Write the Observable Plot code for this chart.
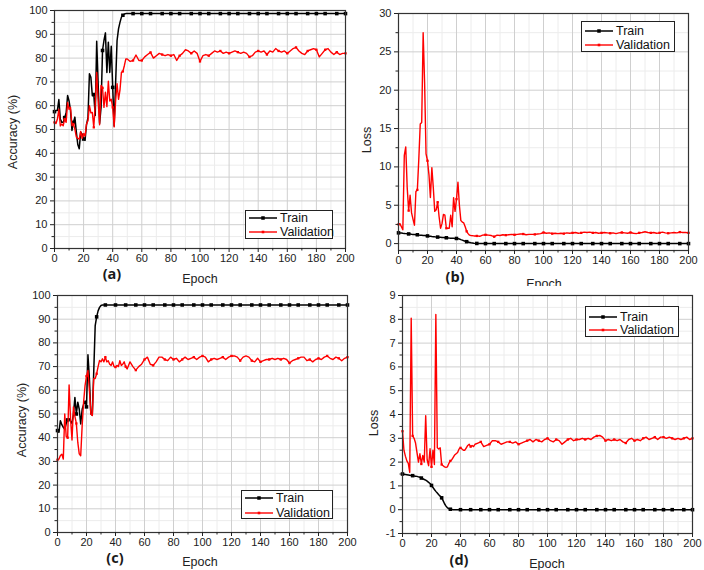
<!DOCTYPE html>
<html><head><meta charset="utf-8">
<script src="https://cdn.jsdelivr.net/npm/d3@7"></script>
<script src="https://cdn.jsdelivr.net/npm/@observablehq/plot@0.6"></script>
<style>
body{margin:0;background:#fff;}
#wrap{position:relative;width:704px;height:570px;overflow:hidden;font-family:"Liberation Sans",Arial,sans-serif;background:#fff;}
.panel{position:absolute;}
.lbl{position:absolute;white-space:nowrap;color:#222;font-size:12.5px;transform:translate(-50%,-50%);line-height:1;}
.ylbl{transform:translate(-50%,-50%) rotate(-90deg);}
.tag{font-family:"Open Sans",sans-serif;font-weight:bold;font-size:14.5px;color:#1a1a1a;}
.legend{position:absolute;border:1px solid #222;background:#fff;box-sizing:border-box;}
.row{position:absolute;left:3px;height:12px;display:flex;align-items:center;font-size:12.5px;line-height:12px;color:#111;white-space:nowrap;}
.row svg{margin-right:3px;}
</style></head>
<body><div id="wrap"></div>
<script>
// ---------- data ----------
const epochsEarly = d3.range(0, 51);          // epochs 0..50
const epochsLate = d3.range(52, 201, 2);      // epochs 52..200 (every 2)
const markerEpochs = [0,7,13,20,27,33,40,47,54,60,66,74,80,86,94,100,106,114,120,126,134,140,146,154,160,166,174,180,186,194,200];
const xMajor = [0,20,40,60,80,100,120,140,160,180,200];
const xMinor = [10,30,50,70,90,110,130,150,170,190];
const accMajor = [0,10,20,30,40,50,60,70,80,90,100];
const accMinor = [5,15,25,35,45,55,65,75,85,95];
const lossBMajor = [0,5,10,15,20,25,30];
const lossBMinor = [2.5,7.5,12.5,17.5,22.5,27.5];
const lossDMajor = [-1,0,1,2,3,4,5,6,7,8,9];
const lossDMinor = [-0.5,0.5,1.5,2.5,3.5,4.5,5.5,6.5,7.5,8.5];

// (a) accuracy
const trainA_early = [57.5,58,58,62.6,54.4,53,53,55,57,64.3,62,58,49.6,53,55.2,
  49,43.7,41.9,48.9,48,46,45.5,52,55,73.4,71.9,64.2,64.7,55.9,87.1,
  69,52.6,59.3,83.2,87.4,90.6,74,86.7,74,85,67.7,51.5,69.5,87.4,92.3,
  95,97.2,98,98.5,98.7,98.7];
const trainA_late = [98.7,98.7,98.7,98.7,98.7,98.7,98.7,98.7,98.7,98.7,98.7,98.7,98.7,98.7,98.7,
  98.7,98.7,98.7,98.7,98.7,98.7,98.7,98.7,98.7,98.7,98.7,98.7,98.7,98.7,98.7,
  98.7,98.7,98.7,98.7,98.7,98.7,98.7,98.7,98.7,98.7,98.7,98.7,98.7,98.7,98.7,
  98.7,98.7,98.7,98.7,98.7,98.7,98.7,98.7,98.7,98.7,98.7,98.7,98.7,98.7,98.7,
  98.7,98.7,98.7,98.7,98.7,98.7,98.7,98.7,98.7,98.7,98.7,98.7,98.7,98.7,98.7];
const valA_early = [53,52.5,54.4,58.5,51.5,52.3,51.6,54.4,53,61.4,58.5,59.3,51.6,52.3,50.2,
  46.9,46.3,46,49.2,46.3,48,47.3,52.3,53.7,60,57,57.2,50.9,60.7,74,
  62,52,68.5,67.5,59.3,65.7,59.6,70.3,62,62.7,59.3,51.1,62,69.2,62.7,
  66.5,74,74.4,76.8,79.6,79.6];
const valA_late = [78.6,79,81.3,79,79,80.5,81.5,82.4,80,81,82,81.5,81,81.5,81,
  81.5,79,81,82,83.5,83,82,83,82,78.6,81,81.5,81,82,83,
  82.5,83,82,82.5,82,82.5,83,82.5,82,82.5,82,80.5,81,82.5,83,
  82.5,83,81.5,83,82.5,84,83,82.5,83,82,83,84,84.5,83,82,
  81.5,83,83.5,84,83.5,80.5,82,83.5,84,82.5,81.5,82.5,81.5,82,82];

// (b) loss
const trainB_early = [1.4,1.38,1.37,1.34,1.33,1.3,1.29,1.26,1.25,1.22,1.2,1.19,1.16,1.15,1.12,
  1.1,1.09,1.06,1.05,1.02,1.0,0.97,0.95,0.92,0.9,0.88,0.87,0.85,0.84,0.82,
  0.8,0.79,0.77,0.76,0.74,0.72,0.71,0.7,0.69,0.68,0.67,0.65,0.6,0.52,0.45,
  0.38,0.3,0.25,0.2,0.15,0.1];
const trainB_late = [0.05,0.02,0,0,0,0,0,0,0,0,0,0,0,0,0,
  0,0,0,0,0,0,0,0,0,0,0,0,0,0,0,
  0,0,0,0,0,0,0,0,0,0,0,0,0,0,0,
  0,0,0,0,0,0,0,0,0,0,0,0,0,0,0,
  0,0,0,0,0,0,0,0,0,0,0,0,0,0,0];
const valB_early = [2.5,2.6,2.2,1.8,11.5,12.6,7.3,4.3,6.3,4.0,3.2,2.4,6.8,7.0,11,
  15.6,15.8,27.5,21,11.7,10.8,9.0,6.0,9.9,7.3,4.2,4.4,5.4,3.5,2.0,
  2.6,3.8,3.7,2.0,2.0,2.0,3.7,2.2,6.0,4.2,5.8,8.0,5.0,3.0,2.8,
  2.7,2.2,1.6,1.3,1.1,1.05];
const valB_late = [1.0,1.0,0.95,1.1,1.15,1.1,1.05,0.9,1.1,1.05,1.15,1.1,1.15,1.2,1.15,
  1.2,1.25,1.25,1.15,1.2,1.2,1.2,1.25,1.3,1.45,1.35,1.4,1.3,1.35,1.3,
  1.35,1.3,1.4,1.35,1.4,1.45,1.35,1.4,1.5,1.45,1.5,1.4,1.45,1.35,1.4,
  1.45,1.4,1.35,1.4,1.3,1.4,1.45,1.4,1.35,1.45,1.35,1.3,1.4,1.45,1.55,
  1.45,1.4,1.45,1.35,1.4,1.5,1.4,1.35,1.4,1.45,1.4,1.5,1.45,1.45,1.4];

// (c) accuracy
const trainC_early = [43,42.3,47.2,45.5,44.4,43.5,46,47.5,48,47,46,50,57,50,55,
  52,45.8,52,54,55.5,53,75,65,50,49.5,68,87.3,91,93.5,95,
  95.8,96,96,96,96,96,96,96,96,96,96,96,96,96,96,
  96,96,96,96,96,96];
const trainC_late = [96,96,96,96,96,96,96,96,96,96,96,96,96,96,96,
  96,96,96,96,96,96,96,96,96,96,96,96,96,96,96,
  96,96,96,96,96,96,96,96,96,96,96,96,96,96,96,
  96,96,96,96,96,96,96,96,96,96,96,96,96,96,96,
  96,96,96,96,96,96,96,96,96,96,96,96,96,96,96];
const valC_early = [30.7,31,32.5,33,31,50,40.5,40,62.3,48,39,53,49,46,38,
  33.2,32.4,45,55,62,66,68.4,60,50,49.4,65,65,67,70,72.6,
  72,73.3,72,74,72,72.5,71,70.5,72,70,69.8,70.5,70,72.5,70.5,
  71,72,70,69,70.5,72];
const valC_late = [70,68.5,70,71,73,74,71,70.5,72,74,74,73,72.5,74,73,
  73.5,72,73,74,73,73.5,74,73,74,74.5,74,72,73,73.5,73,
  73.5,74,73,74,74.5,74.5,74,72.5,74,74.5,74,72.5,72,73.5,72,
  72.5,73,73,73.5,73,73.5,73,73.5,73,71.5,72.5,73,73.5,74,74,
  72.5,73,72,73,73.5,73,74,74.5,73.5,73,74,73.5,72.5,73.5,74];

// (d) loss
const trainD_early = [1.5,1.49,1.48,1.47,1.46,1.45,1.44,1.43,1.42,1.41,1.4,1.38,1.36,1.33,1.3,
  1.27,1.24,1.2,1.15,1.1,1.02,0.93,0.85,0.77,0.7,0.63,0.57,0.5,0.38,0.25,
  0.15,0.08,0.04,0.02,0.01,0,0,0,0,0,0,0,0,0,0,
  0,0,0,0,0,0];
const trainD_late = [0,0,0,0,0,0,0,0,0,0,0,0,0,0,0,
  0,0,0,0,0,0,0,0,0,0,0,0,0,0,0,
  0,0,0,0,0,0,0,0,0,0,0,0,0,0,0,
  0,0,0,0,0,0,0,0,0,0,0,0,0,0,0,
  0,0,0,0,0,0,0,0,0,0,0,0,0,0,0];
const valD_early = [3.3,2.5,2.25,2.05,1.95,1.57,8.05,3.1,3.0,2.8,2.4,2.0,2.35,1.92,2.28,
  2.0,3.95,2.1,1.85,2.56,1.8,2.5,1.9,8.2,2.6,2.55,2.6,1.9,1.85,1.8,
  1.78,1.8,1.95,2.05,2.1,2.2,2.3,2.35,2.4,2.55,2.6,2.55,2.5,2.5,2.6,
  2.7,2.75,2.65,2.7,2.65,2.75];
const valD_late = [2.8,2.85,2.65,2.7,2.75,2.9,2.9,2.85,2.75,2.8,2.85,2.85,2.8,2.85,2.75,
  2.8,2.85,2.9,2.95,2.85,2.95,2.9,2.85,2.95,3.0,2.9,2.85,2.95,2.9,2.75,
  2.85,2.95,3.0,2.9,2.95,2.95,3.0,2.95,3.0,2.95,3.05,3.1,3.12,3.05,2.9,
  2.95,2.9,2.95,2.9,2.95,2.85,2.8,2.95,3.0,2.9,2.95,2.9,3.0,3.05,2.95,
  3.0,3.05,2.95,3.05,3.05,3.0,3.05,3.0,2.95,3.0,2.95,3.0,3.05,2.95,3.0];

// ---------- helpers ----------
function series(early, late) {
  return [
    ...early.map((v, i) => ({epoch: epochsEarly[i], value: v})),
    ...late.map((v, i) => ({epoch: epochsLate[i], value: v}))
  ];
}
const markerSet = new Set(markerEpochs);
const wrap = document.getElementById("wrap");

function makePanel(cfg) {
  const train = series(cfg.trainEarly, cfg.trainLate);
  const val = series(cfg.valEarly, cfg.valLate);
  const plot = Plot.plot({
    width: cfg.w, height: cfg.h,
    marginLeft: cfg.ml, marginRight: cfg.mr, marginTop: cfg.mt, marginBottom: cfg.mb,
    style: {fontSize: "11px", fontFamily: "Liberation Sans, Arial, sans-serif", color: "#222", background: "transparent", overflow: "visible"},
    x: {domain: [0, 200]},
    y: {domain: cfg.yDomain},
    marks: [
      Plot.ruleX(xMinor, {stroke: "#ececec"}),
      Plot.ruleY(cfg.yMinor, {stroke: "#ececec"}),
      Plot.ruleX(xMajor, {stroke: "#cfcfcf"}),
      Plot.ruleY(cfg.yMajor, {stroke: "#cfcfcf"}),
      Plot.line(train, {x: "epoch", y: "value", stroke: "#000", strokeWidth: 1.5}),
      Plot.dot(train.filter(d => markerSet.has(d.epoch)), {x: "epoch", y: "value", symbol: "square", r: 2, fill: "#000"}),
      Plot.line(val, {x: "epoch", y: "value", stroke: "#ff0000", strokeWidth: 1.4}),
      Plot.dot(val.filter(d => markerSet.has(d.epoch)), {x: "epoch", y: "value", symbol: "square", r: 1.3, fill: "#ff0000"}),
      Plot.frame({stroke: "#333", strokeWidth: 1.2}),
      Plot.axisX({ticks: xMajor, tickSize: 4, tickPadding: 2, tickFormat: d => String(d), label: null}),
      Plot.axisX({ticks: xMinor, tickSize: 2.5, tickFormat: () => "", label: null}),
      Plot.axisY({ticks: cfg.yMajor, tickSize: 4, tickPadding: 3, tickFormat: d => String(d), label: null}),
      Plot.axisY({ticks: cfg.yMinor, tickSize: 2.5, tickFormat: () => "", label: null})
    ]
  });
  const div = document.createElement("div");
  div.className = "panel";
  div.style.left = cfg.left + "px";
  div.style.top = cfg.top + "px";
  div.appendChild(plot);
  wrap.appendChild(div);
}

function label(text, x, y, cls) {
  const d = document.createElement("div");
  d.className = "lbl " + (cls || "");
  d.style.left = x + "px"; d.style.top = y + "px";
  d.textContent = text;
  wrap.appendChild(d);
  return d;
}

function legend(x, y, w, h, rowYs) {
  const box = document.createElement("div");
  box.className = "legend";
  Object.assign(box.style, {left: x + "px", top: y + "px", width: w + "px", height: h + "px"});
  const entries = [["Train", "#000", 3.5, 1.5], ["Validation", "#ff0000", 2.6, 1.4]];
  entries.forEach(([name, color, ms, sw], i) => {
    const r = document.createElement("div");
    r.className = "row";
    r.style.top = (rowYs[i] - y - 7) + "px";
    r.innerHTML = `<svg width="28" height="8"><line x1="0" y1="4" x2="28" y2="4" stroke="${color}" stroke-width="${sw}"/><rect x="${14 - ms/2}" y="${4 - ms/2}" width="${ms}" height="${ms}" fill="${color}"/></svg><span>${name}</span>`;
    box.appendChild(r);
  });
  wrap.appendChild(box);
}

// ---------- panels ----------
makePanel({left: 0, top: 0, w: 352, h: 285, ml: 54, mr: 7, mt: 10, mb: 37,
  yDomain: [0, 100], yMajor: accMajor, yMinor: accMinor,
  trainEarly: trainA_early, trainLate: trainA_late, valEarly: valA_early, valLate: valA_late});
makePanel({left: 352, top: 0, w: 352, h: 285, ml: 46, mr: 16, mt: 13, mb: 35,
  yDomain: [-0.9, 30], yMajor: lossBMajor, yMinor: lossBMinor,
  trainEarly: trainB_early, trainLate: trainB_late, valEarly: valB_early, valLate: valB_late});
makePanel({left: 0, top: 285, w: 352, h: 285, ml: 57, mr: 5, mt: 10, mb: 38,
  yDomain: [0, 100], yMajor: accMajor, yMinor: accMinor,
  trainEarly: trainC_early, trainLate: trainC_late, valEarly: valC_early, valLate: valC_late});
makePanel({left: 352, top: 285, w: 352, h: 285, ml: 50, mr: 12, mt: 10, mb: 37,
  yDomain: [-1, 9], yMajor: lossDMajor, yMinor: lossDMinor,
  trainEarly: trainD_early, trainLate: trainD_late, valEarly: valD_early, valLate: valD_late});

// axis titles and panel tags
label("Accuracy (%)", 13, 132, "ylbl");
label("Epoch", 200, 279);
label("(a)", 112, 274, "tag");
label("Loss", 367, 140, "ylbl");
label("(b)", 455, 277, "tag");
const clipB = document.createElement("div");
Object.assign(clipB.style, {position: "absolute", left: "500px", top: "270px", width: "90px", height: "16px", overflow: "hidden"});
const eb = document.createElement("div");
eb.className = "lbl"; eb.textContent = "Epoch";
Object.assign(eb.style, {left: "44px", top: "14px"});
clipB.appendChild(eb); wrap.appendChild(clipB);
label("Accuracy (%)", 22, 420, "ylbl");
label("Epoch", 200, 562);
label("(c)", 115, 558, "tag");
label("Loss", 374, 423, "ylbl");
label("Epoch", 547, 564);
label("(d)", 459, 560, "tag");

// legends
legend(245, 210, 88, 29, [218, 232]);
legend(581, 21, 94, 31, [31, 45]);
legend(241, 490, 92, 29, [498, 513]);
legend(585, 306, 94, 31, [317, 330]);
</script>
</body></html>
